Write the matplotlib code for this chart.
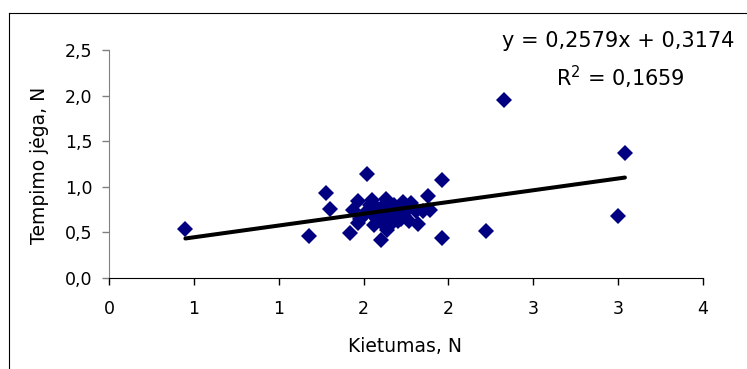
import matplotlib.pyplot as plt
from matplotlib.lines import Line2D
from matplotlib.ticker import FixedLocator, FixedFormatter

# --- data --- #
kietumas = [0.45, 1.18, 1.28, 1.30, 1.52, 1.42, 1.47, 1.44, 1.47, 1.55,
            1.63, 1.73, 1.78, 1.88, 1.89, 1.96, 1.96, 1.82, 1.60, 1.52,
            1.58, 1.62, 1.65, 1.69, 1.72, 1.77, 1.67, 1.56, 1.60, 1.50,
            1.64, 1.75, 1.81, 1.85, 2.33, 3.04, 3.00, 2.22, 1.54, 1.68,
            1.63, 1.55, 1.60, 1.66, 1.70, 1.58, 1.62, 1.70, 1.48, 1.74]
tempimo = [0.54, 0.46, 0.93, 0.76, 1.14, 0.49, 0.60, 0.75, 0.84, 0.86,
           0.87, 0.83, 0.82, 0.90, 0.75, 1.07, 0.44, 0.59, 0.42, 0.73,
           0.65, 0.58, 0.69, 0.75, 0.65, 0.62, 0.60, 0.58, 0.76, 0.69,
           0.53, 0.73, 0.73, 0.73, 1.95, 1.37, 0.68, 0.52, 0.80, 0.80,
           0.71, 0.70, 0.68, 0.72, 0.70, 0.77, 0.80, 0.62, 0.65, 0.68]

# trendline as reported on the chart
slope = 0.2579
intercept = 0.3174
r2 = 0.1659

x_ticks = [0, 0.5, 1.0, 1.5, 2.0, 2.5, 3.0, 3.5]
x_tick_labels = ['0', '1', '1', '2', '2', '3', '3', '4']
y_ticks = [0.0, 0.5, 1.0, 1.5, 2.0, 2.5]
y_tick_labels = ['0,0', '0,5', '1,0', '1,5', '2,0', '2,5']

plt.rcParams['font.family'] = ['DejaVu Sans']

W, H = 747, 369
fig = plt.figure(figsize=(W / 100, H / 100), dpi=100)
ax = fig.add_axes([109 / W, (H - 278) / H, (703 - 109) / W, (278 - 50) / H])

ax.plot(kietumas, tempimo, linestyle='none', marker='D', ms=8.5,
        color='#000080', markeredgewidth=0, zorder=2)

x0, x1 = min(kietumas), max(kietumas)
ax.plot([x0, x1], [slope * x0 + intercept, slope * x1 + intercept],
        color='black', lw=2.9, solid_capstyle='round', zorder=3)

ax.set_xlim(0, 3.5)
ax.set_ylim(0, 2.5)
ax.xaxis.set_major_locator(FixedLocator(x_ticks))
ax.xaxis.set_major_formatter(FixedFormatter(x_tick_labels))
ax.yaxis.set_major_locator(FixedLocator(y_ticks))
ax.yaxis.set_major_formatter(FixedFormatter(y_tick_labels))

for s in ['top', 'right']:
    ax.spines[s].set_visible(False)
ax.spines['left'].set_color('#808080')
ax.spines['bottom'].set_color('black')
ax.tick_params(axis='x', direction='out', length=5, width=1, colors='black',
               labelsize=12.5, pad=11)
ax.tick_params(axis='y', direction='out', length=5, width=1, color='#808080',
               labelcolor='black', labelsize=12.5, pad=7)

fig.text(405 / W, 1 - 347 / H, 'Kietumas, N', ha='center', va='center', fontsize=13.5)
fig.text(40 / W, 1 - 165 / H, 'Tempimo jėga, N', ha='center', va='center',
         rotation=90, fontsize=13.5)

fig.text(618 / W, 1 - 41 / H, f'y = {slope:.4f}x + {intercept:.4f}'.replace('.', ','),
         ha='center', va='center', fontsize=15)
fig.text(620 / W, 1 - 77 / H, f'R$^2$ = {r2:.4f}'.replace('.', ','),
         ha='center', va='center', fontsize=15)

# chart area border (cut off at right and bottom)
fig.add_artist(Line2D([9 / W, 9 / W], [0, 1 - 13 / H], color='black', lw=0.8))
fig.add_artist(Line2D([9 / W, 1], [1 - 13 / H, 1 - 13 / H], color='black', lw=0.8))

fig.savefig('out.png', dpi=100)
